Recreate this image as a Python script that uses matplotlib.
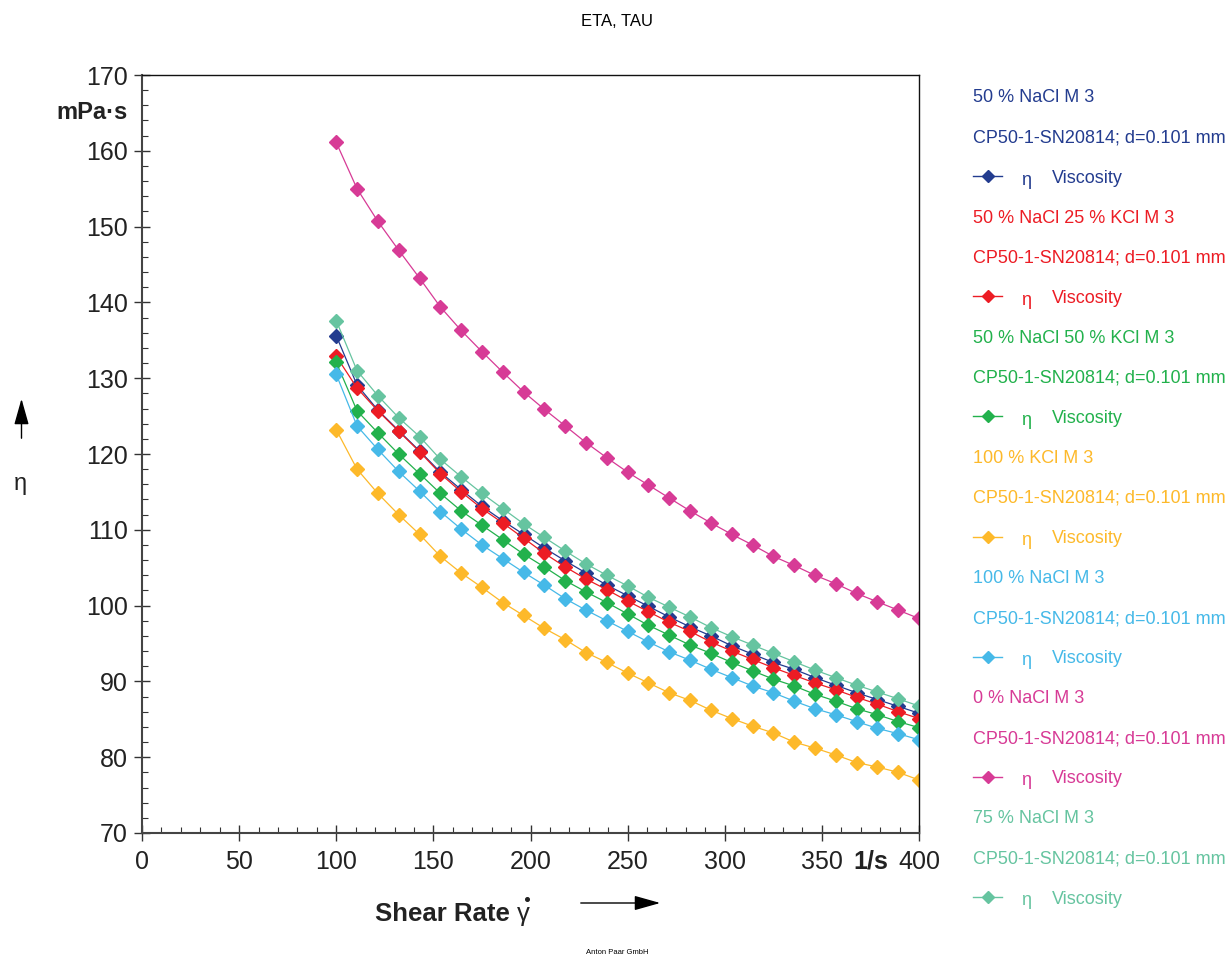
import matplotlib
matplotlib.use('Agg')
import matplotlib.pyplot as plt
from matplotlib.lines import Line2D
from matplotlib.ticker import MultipleLocator

plt.rcParams['font.family'] = ['Liberation Sans', 'DejaVu Sans']

# shear rate points (1/s)
shear = [100, 110.7, 121.4, 132.1, 142.9, 153.6, 164.3, 175, 185.7, 196.4,
         207.1, 217.9, 228.6, 239.3, 250, 260.7, 271.4, 282.1, 292.9, 303.6,
         314.3, 325, 335.7, 346.4, 357.1, 367.9, 378.6, 389.3, 400]

# viscosity (mPa·s)
nacl50 = [135.6, 129.1, 125.8, 123.1, 120.4, 117.6, 115.3, 113.1, 111.2, 109.4,
          107.6, 105.9, 104.3, 102.7, 101.3, 99.9, 98.5, 97.2, 96.0, 94.7,
          93.6, 92.5, 91.6, 90.5, 89.5, 88.5, 87.6, 86.7, 85.8]
nacl50_kcl25 = [132.9, 128.7, 125.7, 123.0, 120.3, 117.4, 115.0, 112.8, 110.9, 108.9,
                106.9, 105.1, 103.5, 102.1, 100.6, 99.2, 97.8, 96.6, 95.2, 94.0,
                92.9, 91.8, 90.8, 89.8, 88.9, 87.9, 87.0, 86.0, 85.1]
nacl50_kcl50 = [132.1, 125.7, 122.8, 120.0, 117.4, 114.8, 112.5, 110.6, 108.7, 106.8,
                105.1, 103.3, 101.8, 100.4, 98.9, 97.4, 96.1, 94.8, 93.7, 92.5,
                91.4, 90.3, 89.4, 88.3, 87.4, 86.4, 85.6, 84.7, 83.9]
kcl100 = [123.2, 118.0, 114.8, 112.0, 109.4, 106.5, 104.3, 102.4, 100.4, 98.7,
          97.0, 95.5, 93.8, 92.5, 91.1, 89.8, 88.5, 87.5, 86.2, 85.1,
          84.1, 83.2, 82.0, 81.2, 80.3, 79.3, 78.7, 78.0, 77.0]
nacl100 = [130.5, 123.7, 120.6, 117.7, 115.1, 112.4, 110.1, 108.0, 106.2, 104.4,
           102.7, 100.9, 99.4, 98.0, 96.6, 95.2, 93.9, 92.8, 91.6, 90.5,
           89.4, 88.5, 87.4, 86.4, 85.6, 84.7, 83.8, 83.1, 82.3]
nacl0 = [161.1, 155.0, 150.7, 146.9, 143.2, 139.4, 136.3, 133.5, 130.8, 128.2,
         125.9, 123.7, 121.5, 119.5, 117.6, 115.9, 114.2, 112.5, 110.9, 109.4,
         108.0, 106.5, 105.3, 104.0, 102.9, 101.6, 100.5, 99.4, 98.3]
nacl75 = [137.6, 131.0, 127.7, 124.8, 122.3, 119.3, 117.0, 114.8, 112.8, 110.8,
          109.0, 107.2, 105.5, 104.0, 102.6, 101.1, 99.8, 98.5, 97.1, 95.9,
          94.8, 93.7, 92.6, 91.5, 90.5, 89.5, 88.6, 87.7, 86.75]

names = ['50 % NaCl M 3', '50 % NaCl 25 % KCl M 3', '50 % NaCl 50 % KCl M 3',
         '100 % KCl M 3', '100 % NaCl M 3', '0 % NaCl M 3', '75 % NaCl M 3']
series = [nacl50, nacl50_kcl25, nacl50_kcl50, kcl100, nacl100, nacl0, nacl75]
colors = ['#233c8f', '#ec1c24', '#22b14c', '#fdb92a', '#46b9e8', '#d73b96', '#66c4a0']
meas = 'CP50-1-SN20814; d=0.101 mm'

fig = plt.figure(figsize=(12.27, 9.58), dpi=100)
ax = fig.add_axes([142/1227, 1-833/958, (919-142)/1227, (833-75)/958])

for y, c in zip(series, colors):
    ax.plot(shear, y, color=c, lw=0.9, marker='D', ms=7.2, mec=c, mfc=c)

ax.set_xlim(0, 400)
ax.set_ylim(70, 170)
ax.xaxis.set_major_locator(MultipleLocator(50))
ax.xaxis.set_minor_locator(MultipleLocator(10))
ax.yaxis.set_major_locator(MultipleLocator(10))
ax.yaxis.set_minor_locator(MultipleLocator(2))
ax.tick_params(which='major', direction='inout', length=12, width=1.0,
               color='#333333', labelsize=18, labelcolor='#222222', pad=4)
ax.tick_params(which='minor', direction='in', length=4, width=0.8, color='#333333')
ax.tick_params(axis='x', pad=6)
for s in ['left', 'bottom']:
    ax.spines[s].set_linewidth(1.5)
    ax.spines[s].set_color('#444444')
for s in ['top', 'right']:
    ax.spines[s].set_linewidth(1.0)
    ax.spines[s].set_color('#111111')

# units
ax.annotate('1/s', xy=(375, 70), xycoords='data', xytext=(0, -12),
            textcoords='offset points', fontsize=18, fontweight='bold',
            ha='center', va='top', color='#222222')
ax.annotate('mPa·s', xy=(0, 165), xycoords='data', xytext=(-10, 0),
            textcoords='offset points', fontsize=17, fontweight='bold',
            ha='right', va='center', color='#222222')

fig.text(617/1227, 1-22/958, 'ETA, TAU', ha='center', va='center', fontsize=12)
fig.text(617/1227, 1-953/958, 'Anton Paar GmbH', ha='center', va='center', fontsize=5.5)

# axis labels with arrows
fig.text(375/1227, 1-921/958, 'Shear Rate', ha='left', va='baseline',
         fontsize=18.5, fontweight='bold', color='#222222')
fig.text(523/1227, 1-921/958, 'γ', ha='center', va='baseline',
         fontsize=18.5, color='#222222')
# dot over gamma (shear rate symbol)
fig.add_artist(Line2D([526.5/1227], [1-899/958], transform=fig.transFigure,
                      marker='o', ms=2.6, color='#222222', lw=0))
ax.annotate('', xy=(663/1227, 1-903/958), xytext=(578/1227, 1-903/958),
            xycoords='figure fraction', textcoords='figure fraction',
            arrowprops=dict(arrowstyle='-|>,head_length=1.6,head_width=0.45',
                            color='black', lw=1.0))
fig.text(20/1227, 1-484/958, 'η', ha='center', va='center', fontsize=17, color='#222222')
ax.annotate('', xy=(21.5/1227, 1-396/958), xytext=(21.5/1227, 1-441/958),
            xycoords='figure fraction', textcoords='figure fraction',
            arrowprops=dict(arrowstyle='-|>,head_length=1.6,head_width=0.45',
                            color='black', lw=1.0))

# legend block on the right
row = 0
for name, c in zip(names, colors):
    y0 = 98 + 40.05 * row
    fig.text(973/1227, 1-y0/958, name, color=c, fontsize=13, va='center', ha='left')
    fig.text(973/1227, 1-(y0+40.05)/958, meas, color=c, fontsize=13, va='center', ha='left')
    yl = 1-(y0+80.1)/958
    fig.add_artist(Line2D([973/1227, 1002/1227], [yl + 0.002, yl + 0.002],
                          transform=fig.transFigure, color=c, lw=1.0))
    fig.add_artist(Line2D([988/1227], [yl + 0.002], transform=fig.transFigure, color=c,
                          marker='D', ms=6.5, mec=c, mfc=c, lw=0))
    fig.text(1026/1227, yl - 0.002, 'η', color=c, fontsize=13, va='center', ha='center')
    fig.text(1052/1227, yl, 'Viscosity', color=c, fontsize=13, va='center', ha='left')
    row += 3

fig.savefig('out.png', dpi=100)
